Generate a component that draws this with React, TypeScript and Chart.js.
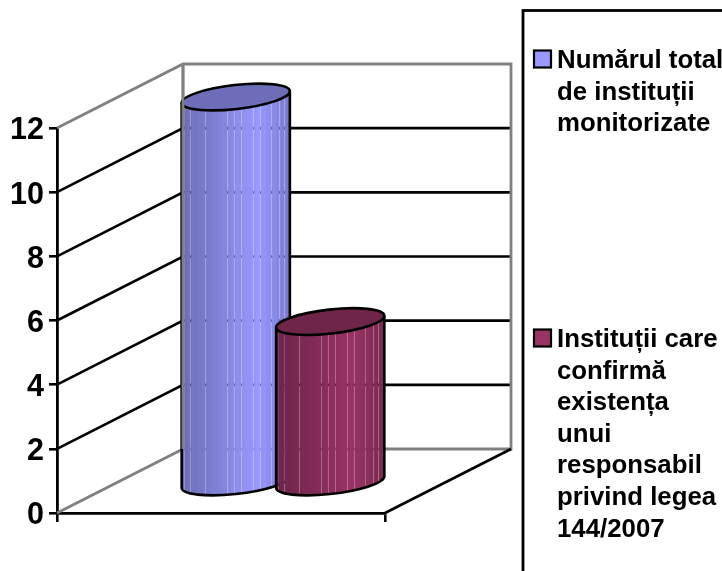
import React, { useEffect, useRef } from "react";
import { Chart, registerables } from "chart.js";

Chart.register(...registerables);

// Chart values
const categories = [""];
const totalInstitutions = [12];
const institutionsWithOfficer = [5];
const yTicksMax = 12;
const yTickStep = 2;

// Legend wording, one entry per drawn line
const totalLegendLines = ["Numărul total", "de instituții", "monitorizate"];
const officerLegendLines = [
  "Instituții care",
  "confirmă",
  "existența",
  "unui",
  "responsabil",
  "privind legea",
  "144/2007",
];

const BLUE = "#9999FF";
const MAROON = "#993366";
const WALL_GREY = "#808080";
const FONT = '"Liberation Sans", Arial, sans-serif';

// Oblique projection of the 3D box
const DEPTH_X = 126;
const DEPTH_Y = -64;
const BAR_DEPTH_X = 62;
const BAR_DEPTH_Y = -31;
const ELLIPSE_TILT = (-6.4 * Math.PI) / 180;
const ELLIPSE_MINOR = 12;
const CYLINDER_WIDEN = 1.145;
// Facet seams around the cylinder, as fractions of its width
const SEAMS = [0.02, 0.07, 0.21, 0.42, 0.48, 0.55, 0.66, 0.72, 0.82, 0.9, 0.94];

function line(ctx: CanvasRenderingContext2D, pts: number[][], color: string, width: number) {
  ctx.save();
  ctx.strokeStyle = color;
  ctx.lineWidth = width;
  ctx.lineJoin = "miter";
  ctx.beginPath();
  pts.forEach(([x, y], i) => (i ? ctx.lineTo(x, y) : ctx.moveTo(x, y)));
  ctx.stroke();
  ctx.restore();
}

function shade(hex: string, k: number) {
  const n = parseInt(hex.slice(1), 16);
  const c = [(n >> 16) & 255, (n >> 8) & 255, n & 255].map((v) => Math.round(v * k));
  return `${c[0]},${c[1]},${c[2]}`;
}

// Brightness across the cylinder: dark on the left, brightest past the middle
function facetBrightness(f: number) {
  const q = Math.floor(f * 22) / 22;
  return q < 0.68 ? 0.72 + (0.28 * q) / 0.68 : 1 - (0.22 * (q - 0.68)) / 0.32;
}

function drawCylinder(
  ctx: CanvasRenderingContext2D,
  cx: number,
  topY: number,
  baseY: number,
  width: number,
  color: string,
) {
  const a = width / 2 / Math.cos(ELLIPSE_TILT);
  const b = ELLIPSE_MINOR;
  const t = Math.atan((-(b / a)) * Math.tan(ELLIPSE_TILT));
  const ex = a * Math.cos(t) * Math.cos(ELLIPSE_TILT) - b * Math.sin(t) * Math.sin(ELLIPSE_TILT);
  const ey = a * Math.cos(t) * Math.sin(ELLIPSE_TILT) + b * Math.sin(t) * Math.cos(ELLIPSE_TILT);

  const sidePath = () => {
    ctx.beginPath();
    ctx.moveTo(cx - ex, topY - ey);
    ctx.lineTo(cx - ex, baseY - ey);
    ctx.ellipse(cx, baseY, a, b, ELLIPSE_TILT, Math.PI + t, t, true);
    ctx.lineTo(cx + ex, topY + ey);
  };

  ctx.save();
  sidePath();
  ctx.closePath();
  ctx.clip();
  const left = Math.round(cx - ex);
  const cols = Math.round(ex * 2);
  const seamCols = new Set(SEAMS.map((s) => Math.round(s * cols)));
  const top = topY - b - 20;
  const h = baseY - topY + 2 * b + 40;
  for (let i = 0; i < cols; i++) {
    const alpha = seamCols.has(i) ? 0.72 : 1;
    ctx.fillStyle = `rgba(${shade(color, facetBrightness(i / cols))},${alpha})`;
    ctx.fillRect(left + i, top, 1, h);
  }
  ctx.restore();

  ctx.save();
  ctx.strokeStyle = "#000";
  ctx.lineWidth = 2.6;
  sidePath();
  ctx.stroke();
  ctx.beginPath();
  ctx.ellipse(cx, topY, a, b, ELLIPSE_TILT, 0, Math.PI * 2);
  ctx.fillStyle = `rgb(${shade(color, 0.72)})`;
  ctx.fill();
  ctx.stroke();
  ctx.restore();
}

// Walls, floor, gridlines and cylinders of the 3D box
const boxPlugin = {
  id: "box",
  beforeDatasetsDraw(chart: any) {
    const { ctx, chartArea, scales } = chart;
    const { left, right } = chartArea;
    const y = scales.y;
    const zero = y.getPixelForValue(0);
    const top = y.getPixelForValue(yTicksMax);
    const backL = left + DEPTH_X;
    const backR = right + DEPTH_X;

    for (const tick of y.ticks) {
      if (tick.value === 0 || tick.value === yTicksMax) continue;
      const py = y.getPixelForValue(tick.value);
      line(ctx, [[left, py], [backL, py + DEPTH_Y], [backR, py + DEPTH_Y]], "#000", 2.6);
    }
    line(ctx, [[left, top], [backL, top + DEPTH_Y], [backR, top + DEPTH_Y], [backR, zero + DEPTH_Y], [backL, zero + DEPTH_Y], [backL, top + DEPTH_Y]], WALL_GREY, 2.8);
    line(ctx, [[left, zero], [backL, zero + DEPTH_Y]], WALL_GREY, 2.8);
    line(ctx, [[right, zero], [backR, zero + DEPTH_Y]], "#000", 2.6);

    // Later series sit in front of earlier ones
    chart.data.datasets.forEach((dataset: any, i: number) => {
      const bar = chart.getDatasetMeta(i).data[0];
      drawCylinder(
        ctx,
        bar.x + BAR_DEPTH_X,
        bar.y + BAR_DEPTH_Y,
        zero + BAR_DEPTH_Y,
        bar.width * CYLINDER_WIDEN,
        dataset.backgroundColor,
      );
    });

    // The back wall's left edge stays visible along the first cylinder
    line(ctx, [[backL, top + DEPTH_Y], [backL, zero + DEPTH_Y]], WALL_GREY, 2.8);
  },
  beforeDatasetDraw() {
    // Flat bars are replaced by the cylinders above
    return false;
  },
};

// Framed legend on the right, with hand-broken lines
const sideLegendPlugin = {
  id: "sideLegend",
  afterDraw(chart: any) {
    const { ctx } = chart;
    ctx.save();
    ctx.strokeStyle = "#000";
    ctx.lineWidth = 2.8;
    ctx.strokeRect(523, 10.5, 240, 600);
    const entries = [
      { lines: totalLegendLines, color: chart.data.datasets[0].backgroundColor, first: 68 },
      { lines: officerLegendLines, color: chart.data.datasets[1].backgroundColor, first: 347 },
    ];
    for (const entry of entries) {
      ctx.fillStyle = entry.color;
      ctx.lineWidth = 2.2;
      ctx.fillRect(534, entry.first - 17.5, 17, 17);
      ctx.strokeRect(534, entry.first - 17.5, 17, 17);
      ctx.fillStyle = "#000";
      ctx.font = `bold 25.8px ${FONT}`;
      ctx.textBaseline = "alphabetic";
      entry.lines.forEach((text: string, i: number) => {
        ctx.fillText(text, 557, entry.first + i * 31.6);
      });
    }
    ctx.restore();
  },
};

export default function App() {
  const ref = useRef<HTMLCanvasElement>(null);
  useEffect(() => {
    const chart = new Chart(ref.current!, {
      type: "bar",
      data: {
        labels: categories,
        datasets: [
          { label: totalLegendLines.join(" "), data: totalInstitutions, backgroundColor: BLUE, borderWidth: 0 },
          { label: officerLegendLines.join(" "), data: institutionsWithOfficer, backgroundColor: MAROON, borderWidth: 0 },
        ],
      },
      options: {
        responsive: false,
        animation: false,
        layout: { padding: { left: 0, top: 128, right: 337, bottom: 0 } },
        plugins: { legend: { display: false }, tooltip: { enabled: false } },
        datasets: { bar: { categoryPercentage: 0.576, barPercentage: 1 } },
        scales: {
          x: {
            afterFit(scale: any) {
              scale.height = 58;
            },
            ticks: { display: false },
            border: { color: "#000", width: 2.8 },
            grid: { drawOnChartArea: false, color: "#000", lineWidth: 2.6, tickLength: 9 },
          },
          y: {
            min: 0,
            max: yTicksMax,
            afterFit(scale: any) {
              scale.width = 57;
            },
            ticks: {
              stepSize: yTickStep,
              color: "#000",
              padding: 5,
              labelOffset: 3,
              font: { family: FONT, size: 30.5, weight: "bold" },
            },
            border: { color: "#000", width: 2.8 },
            grid: { drawOnChartArea: false, color: "#000", lineWidth: 2.6, tickLength: 8 },
          },
        },
      },
      plugins: [boxPlugin, sideLegendPlugin],
    } as any);
    return () => chart.destroy();
  }, []);
  return (
    <div style={{ position: "absolute", left: 0, top: 0, width: 722, height: 571, background: "#fff", overflow: "hidden" }}>
      <canvas ref={ref} width={722} height={571} style={{ display: "block" }} />
    </div>
  );
}
